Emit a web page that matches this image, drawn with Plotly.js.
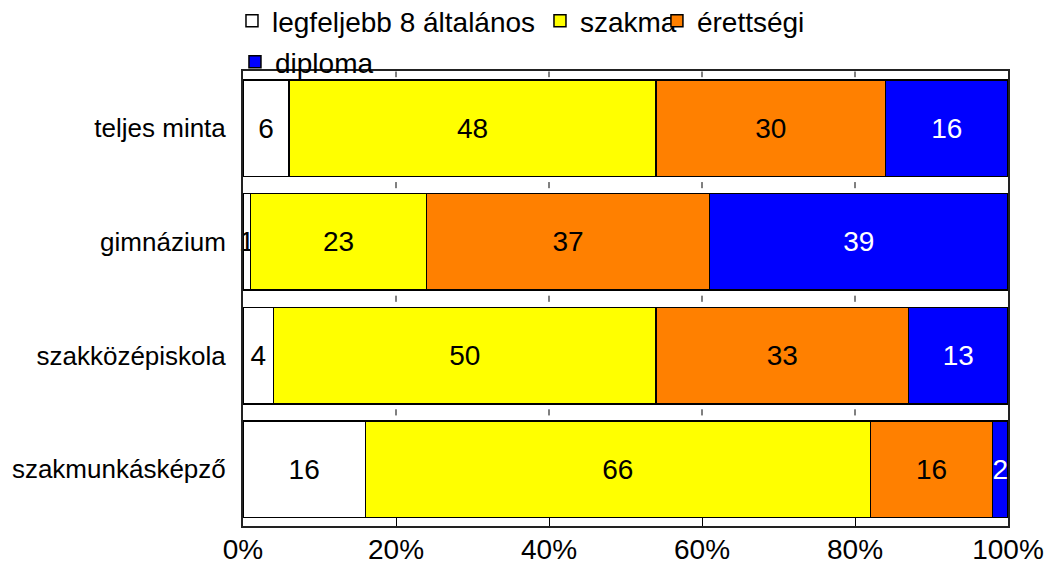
<!DOCTYPE html>
<html>
<head>
<meta charset="utf-8">
<script src="https://cdn.plot.ly/plotly-3.0.1.min.js"></script>
<style>html,body{margin:0;padding:0;background:#fff;}#chart{width:1045px;height:564px;}</style>
</head>
<body>
<div id="chart"></div>
<script>
const categories = ['teljes minta', 'gimnázium', 'szakközépiskola', 'szakmunkásképző'];
const seriesNames = ['legfeljebb 8 általános', 'szakma', 'érettségi', 'diploma'];
const legfeljebb8 = [6, 1, 4, 16];
const szakma = [48, 23, 50, 66];
const erettsegi = [30, 37, 33, 16];
const diploma = [16, 39, 13, 2];
const xTickVals = [0, 20, 40, 60, 80, 100];
const xTickText = ['0%', '20%', '40%', '60%', '80%', '100%'];

const colors = ['#FFFFFF', '#FFFF00', '#FF8000', '#0000FF'];
const textColors = ['#000000', '#000000', '#000000', '#FFFFFF'];
const seriesValues = [legfeljebb8, szakma, erettsegi, diploma];
const FONT = 'Liberation Sans, Arial, sans-serif';
const legendIds = ['legend', 'legend2', 'legend3', 'legend4'];

const traces = seriesValues.map((vals, i) => ({
  type: 'bar',
  orientation: 'h',
  name: seriesNames[i],
  y: categories,
  x: vals,
  text: vals.map(String),
  textposition: 'inside',
  insidetextanchor: 'middle',
  textangle: 0,
  constraintext: 'none',
  cliponaxis: false,
  textfont: {family: FONT, size: 28, color: textColors[i]},
  marker: {color: colors[i], line: {color: '#000000', width: 1.5}},
  legend: legendIds[i],
  hoverinfo: 'skip'
}));

// short tick marks in the gaps between bars
const shapes = [];
[20, 40, 60, 80].forEach(xv => {
  [0.5, 1.5, 2.5].forEach(b => {
    shapes.push({type: 'line', xref: 'x', yref: 'y', x0: xv, x1: xv, y0: b - 0.027, y1: b + 0.027,
      line: {color: '#000000', width: 1}});
  });
  shapes.push({type: 'line', xref: 'x', yref: 'y', x0: xv, x1: xv, y0: -0.5, y1: -0.45,
    line: {color: '#000000', width: 1}});
});

function legendBox(x, y) {
  return {
    orientation: 'h', traceorder: 'normal',
    x: x, xanchor: 'left', y: y, yanchor: 'top',
    font: {family: FONT, size: 28, color: '#000000'},
    bgcolor: 'rgba(0,0,0,0)', itemclick: false, itemdoubleclick: false
  };
}

const layout = {
  width: 1045, height: 564,
  margin: {l: 243, r: 37, t: 71, b: 38, autoexpand: false},
  paper_bgcolor: '#FFFFFF', plot_bgcolor: '#FFFFFF',
  barmode: 'stack',
  bargap: 0.15,
  font: {family: FONT, size: 26, color: '#000000'},
  showlegend: true,
  hovermode: false,
  xaxis: {
    range: [0, 100],
    tickvals: xTickVals, ticktext: xTickText,
    ticks: 'inside', ticklen: 9, tickwidth: 1, tickcolor: '#000000',
    showline: true, linecolor: '#222222', linewidth: 2, mirror: true,
    showgrid: false, zeroline: false,
    ticklabelstandoff: -3,
    tickfont: {family: FONT, size: 28, color: '#000000'},
    automargin: false,
    fixedrange: true
  },
  yaxis: {
    categoryorder: 'array', categoryarray: categories,
    autorange: 'reversed',
    showline: true, linecolor: '#222222', linewidth: 2, mirror: true,
    showgrid: false, zeroline: false, ticks: '',
    ticklabelstandoff: 10,
    tickfont: {family: FONT, size: 26, color: '#000000'},
    automargin: false,
    fixedrange: true
  },
  legend: legendBox(-0.0144, 1.165),
  legend2: legendBox(0.3882, 1.165),
  legend3: legendBox(0.5411, 1.165),
  legend4: legendBox(-0.0105, 1.0747),
  shapes: shapes
};

Plotly.newPlot('chart', traces, layout, {displayModeBar: false, staticPlot: true});
</script>
</body>
</html>
